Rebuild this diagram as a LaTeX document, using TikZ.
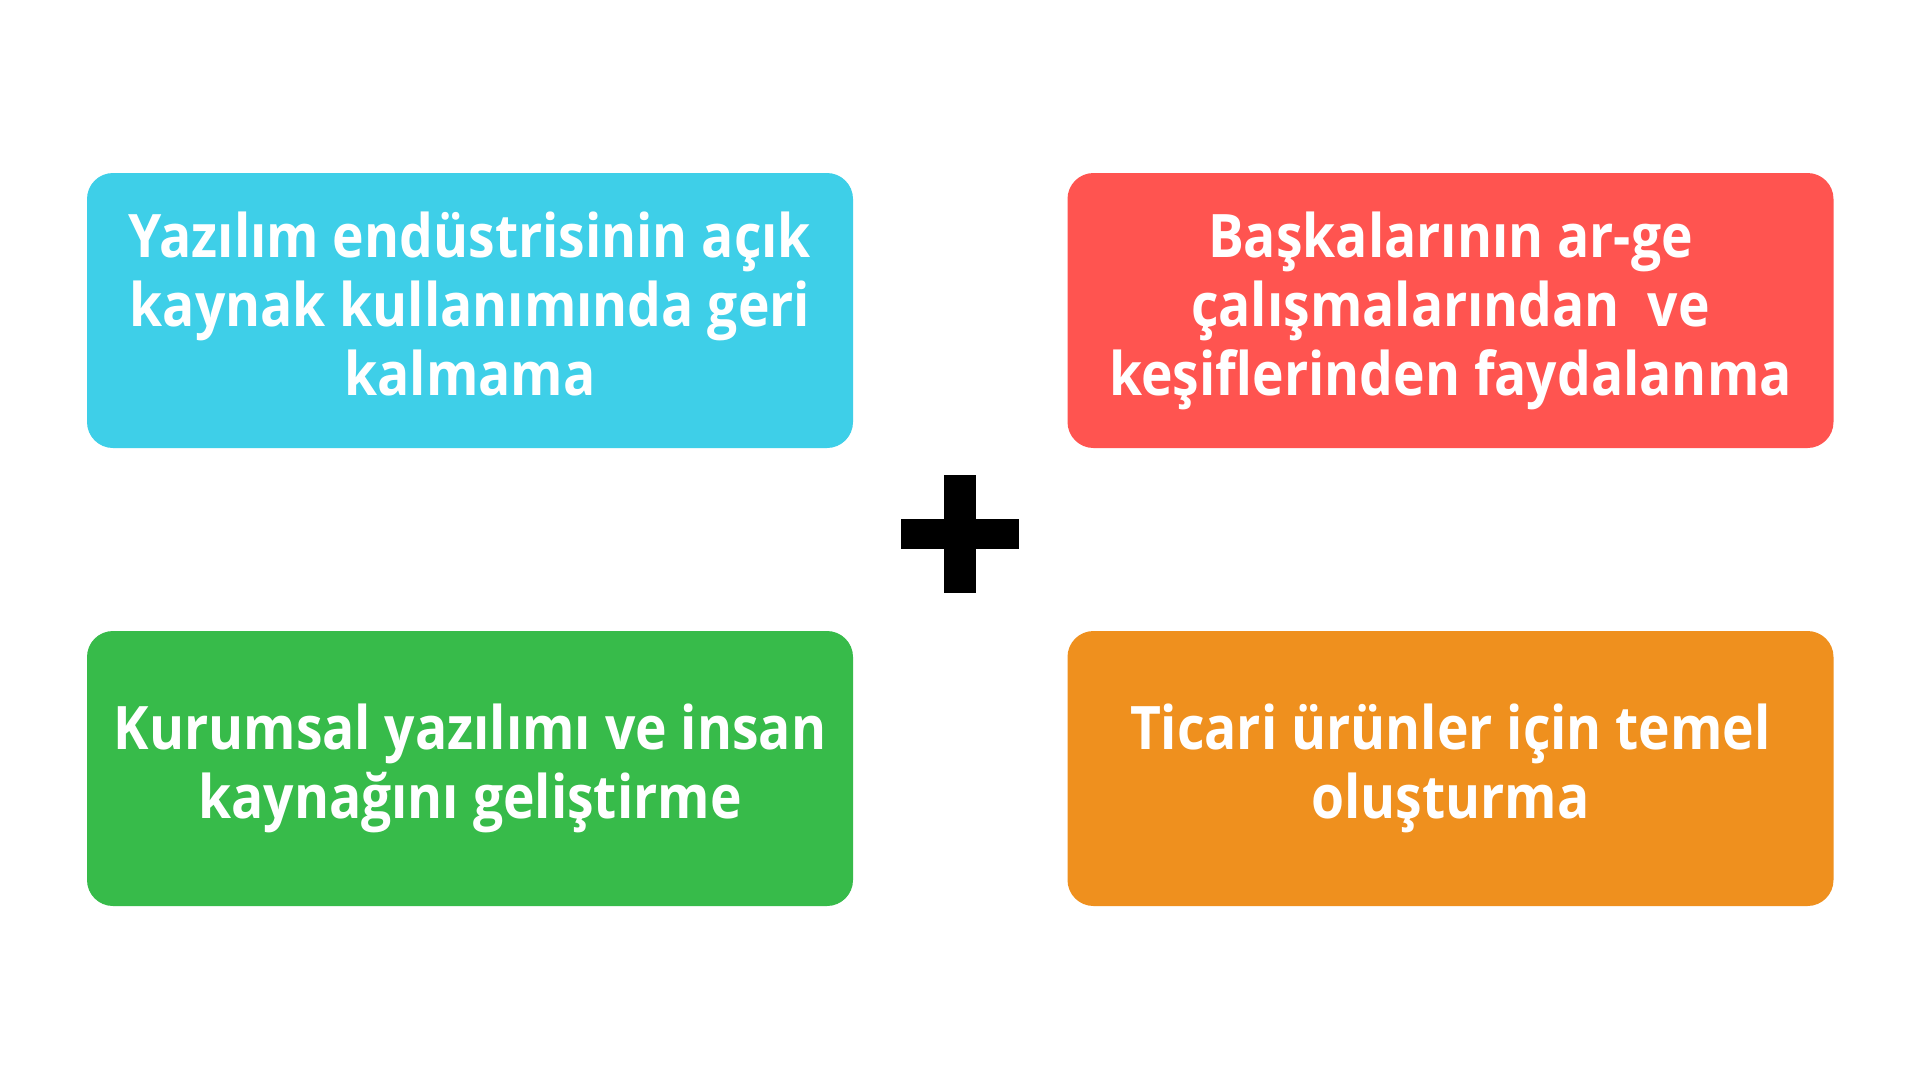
\documentclass[tikz,border=0pt]{standalone}
\usepackage{fontspec}
\setmainfont{Open Sans}[BoldFont={* Bold}, BoldFeatures={FakeStretch=0.89}]
\definecolor{cblue}{HTML}{3ECFE8}
\definecolor{cred}{HTML}{FF5450}
\definecolor{cgreen}{HTML}{37BB4A}
\definecolor{corange}{HTML}{EF901E}
\tikzset{
  card/.style={rounded corners=26pt, minimum width=766pt, minimum height=275pt,
    inner sep=0pt, text=white, align=center,
    font=\fontsize{60}{69}\selectfont\bfseries},
}
\begin{document}
\begin{tikzpicture}[x=1pt,y=-1pt]
\useasboundingbox[fill=white] (0,0) rectangle (1920,1080);
\node[card, fill=cblue] (a) at (470,310.5) {Yazılım endüstrisinin açık\\kaynak kullanımında geri\\kalmama\vphantom{gy}};
\node[card, fill=cred] (b) at (1450.5,310.5) {Başkalarının ar-ge\\çalışmalarından\ \ ve\\keşiflerinden faydalanma};
\node[card, fill=cgreen] (c) at (470,768.5) {Kurumsal yazılımı ve insan\\kaynağını geliştirme};
\node[card, fill=corange] (d) at (1450.5,768.5) {Ticari ürünler için temel\\oluşturma\vphantom{gy}};
\fill[black] (944.3,475) rectangle (976.3,593);
\fill[black] (901,519) rectangle (1019.3,549);
\end{tikzpicture}
\end{document}
